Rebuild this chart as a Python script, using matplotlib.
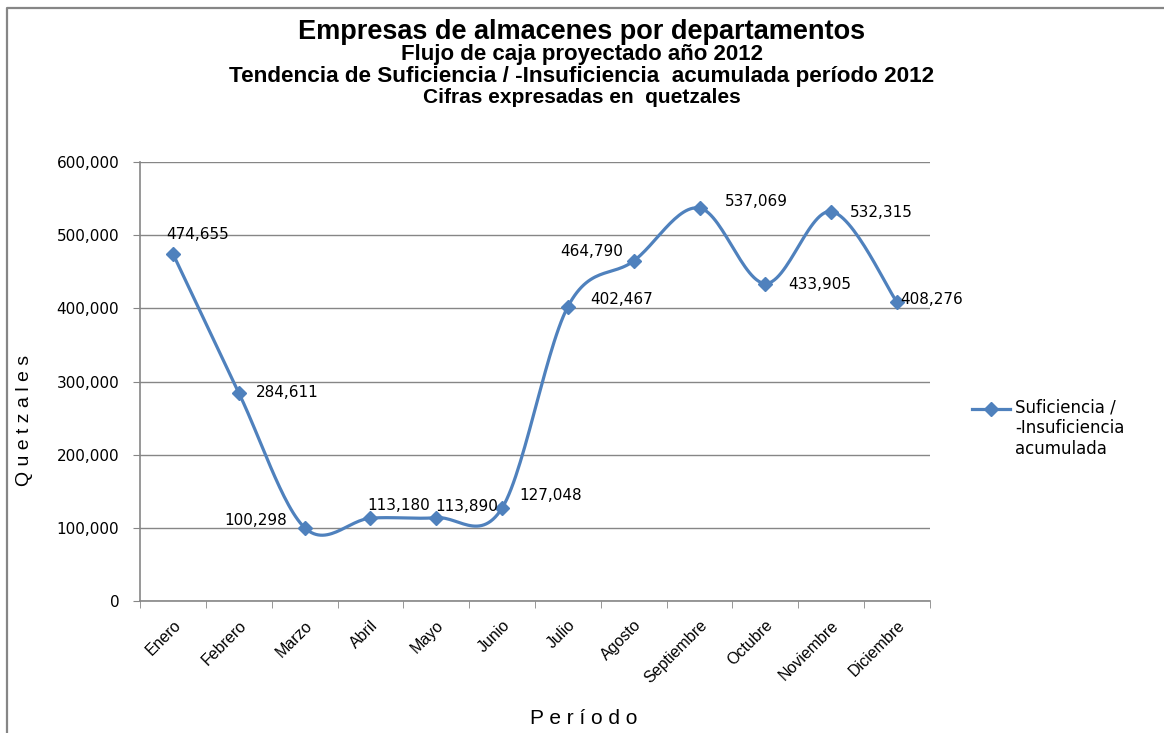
import matplotlib.pyplot as plt
import numpy as np

meses = ["Enero", "Febrero", "Marzo", "Abril", "Mayo", "Junio", "Julio",
         "Agosto", "Septiembre", "Octubre", "Noviembre", "Diciembre"]
valores = [474655, 284611, 100298, 113180, 113890, 127048, 402467,
           464790, 537069, 433905, 532315, 408276]
etiquetas = ["474,655", "284,611", "100,298", "113,180", "113,890", "127,048",
             "402,467", "464,790", "537,069", "433,905", "532,315", "408,276"]

# label offsets in points (dx, dy) relative to each marker
offsets = [(18, 14), (35, 0), (-35, 5), (20, 9), (22, 8), (35, 9),
           (39, 5), (-30, 7), (41, 5), (39, -1), (36, -1), (25, 2)]

plt.rcParams['font.family'] = ['Liberation Sans', 'DejaVu Sans']

color = '#4F81BD'
gris = '#868686'


def smooth(x, y, n=30):
    # excel style smoothing (catmull-rom through bezier segments)
    x = np.asarray(x, float)
    y = np.asarray(y, float)
    px = np.concatenate([[x[0]], x, [x[-1]]])
    py = np.concatenate([[y[0]], y, [y[-1]]])
    xs, ys = [], []
    t = np.linspace(0, 1, n)
    for i in range(1, len(x)):
        p0 = np.array([px[i], py[i]])
        p3 = np.array([px[i + 1], py[i + 1]])
        p1 = p0 + (np.array([px[i + 1], py[i + 1]]) - np.array([px[i - 1], py[i - 1]])) / 6
        p2 = p3 - (np.array([px[i + 2], py[i + 2]]) - np.array([px[i], py[i]])) / 6
        b = ((1 - t) ** 3)[:, None] * p0 + (3 * (1 - t) ** 2 * t)[:, None] * p1 \
            + (3 * (1 - t) * t ** 2)[:, None] * p2 + (t ** 3)[:, None] * p3
        xs.extend(b[:, 0])
        ys.extend(b[:, 1])
    return np.array(xs), np.array(ys)


fig = plt.figure(figsize=(11.64, 7.33), dpi=100)
ax = fig.add_axes([140 / 1164, 1 - 601 / 733, 790 / 1164, 439 / 733])

xi = np.arange(len(meses))
sx, sy = smooth(xi, valores)
ax.plot(sx, sy, color=color, lw=2.3, zorder=3)
ax.plot(xi, valores, ls='none', marker='D', ms=7, color=color, zorder=4)
# legend proxy
ax.plot([], [], color=color, lw=2.3, marker='D', ms=7,
        label="Suficiencia /\n-Insuficiencia\nacumulada")

for i, v in enumerate(valores):
    ax.annotate(etiquetas[i], (xi[i], v), xytext=offsets[i], textcoords='offset points',
                ha='center', va='center', fontsize=11, color='black', zorder=5,
                family='DejaVu Sans')

ax.set_xlim(-0.5, 11.5)
ax.set_ylim(0, 600000)
ax.set_yticks(np.arange(0, 600001, 100000))
ax.set_yticklabels(["0", "100,000", "200,000", "300,000", "400,000", "500,000", "600,000"],
                   fontsize=11, family='DejaVu Sans')
ax.yaxis.grid(True, color=gris, lw=1)
ax.set_axisbelow(True)

ax.set_xticks(xi)
ax.set_xticklabels(meses, rotation=45, ha='right', rotation_mode='anchor', fontsize=11.5)
ax.tick_params(axis='x', length=0, pad=12)
ax.set_xticks(np.arange(-0.5, 12, 1), minor=True)
ax.tick_params(axis='x', which='minor', length=5, color=gris)
ax.tick_params(axis='y', length=5, color=gris, pad=10)

for s in ['top', 'right']:
    ax.spines[s].set_visible(False)
for s in ['left', 'bottom']:
    ax.spines[s].set_color(gris)
    ax.spines[s].set_linewidth(1.2)

ax.set_ylabel("Q u e t z a l e s", fontsize=14)
ax.yaxis.set_label_coords(-0.136, 0.412)
ax.set_xlabel("P e r í o d o", fontsize=15)
ax.xaxis.set_label_coords(0.561, -0.245)

leg = ax.legend(loc='upper left', bbox_to_anchor=(972 / 1164, 1 - 398 / 733),
                bbox_transform=fig.transFigure, frameon=False,
                prop={'family': 'DejaVu Sans', 'size': 12},
                handlelength=2.3, handletextpad=0.3, labelspacing=0,
                borderpad=0, borderaxespad=0)
# put the legend key next to the first line of the label
for h in leg.legend_handles:
    h.set_ydata(np.array(h.get_ydata()) + 12 * 1.2)

fig.text(0.5, 1 - 39 / 733, "Empresas de almacenes por departamentos", ha='center', va='baseline',
         fontsize=19.5, fontweight='bold')
fig.text(0.5, 1 - 60 / 733, "Flujo de caja proyectado año 2012", ha='center', va='baseline',
         fontsize=16, fontweight='bold')
fig.text(0.5, 1 - 82 / 733, "Tendencia de Suficiencia / -Insuficiencia  acumulada período 2012",
         ha='center', va='baseline', fontsize=16.2, fontweight='bold')
fig.text(0.5, 1 - 103 / 733, "Cifras expresadas en  quetzales", ha='center', va='baseline',
         fontsize=15, fontweight='bold')

# chart area border (only left and top edges fall inside the picture)
fig.add_artist(plt.Line2D([7 / 1164, 7 / 1164, 1.0], [0.0, 1 - 8 / 733, 1 - 8 / 733],
                          transform=fig.transFigure, color=gris, lw=1.6))

fig.savefig("out.png", dpi=100)
